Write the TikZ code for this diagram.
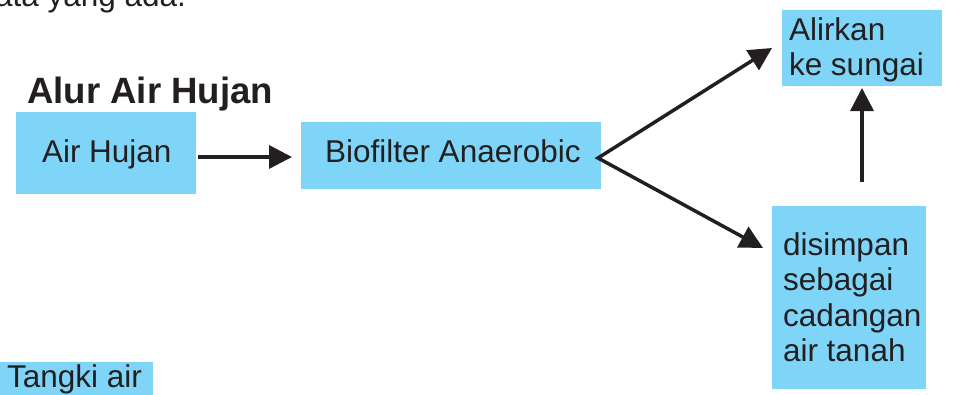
\documentclass[tikz,border=0pt]{standalone}
\usepackage{fontspec}
\setmainfont{Liberation Sans}
\usetikzlibrary{arrows.meta}
\definecolor{boxblue}{RGB}{127,213,247}
\definecolor{ink}{RGB}{35,31,32}
\begin{document}
\begin{tikzpicture}[x=1pt,y=-1pt,
  box/.style={fill=boxblue, draw=none, inner sep=0pt, outer sep=0pt, anchor=north west},
  lbl/.style={text=ink, inner sep=0pt, outer sep=0pt, anchor=base west, font=\fontsize{31.5}{35.5}\selectfont, align=left},
  ttl/.style={text=ink, inner sep=0pt, anchor=base west, font=\fontsize{36.6}{40}\selectfont\bfseries},
  conn/.style={draw=ink, line width=3.5pt, -{Triangle[length=23pt,width=23pt]}},
  connboth/.style={draw=ink, line width=3.5pt, line join=miter, {Triangle[length=23pt,width=23pt]}-{Triangle[length=23pt,width=23pt]}}]
\useasboundingbox (0,0) rectangle (954,394);
\clip (0,0) rectangle (954,394);
% cut text at top
\node[lbl] (toptext) at (-5,6) {ata yang ada.};
% title
\node[ttl] (title) at (27,103) {Alur Air Hujan};
% boxes
\node[box, minimum width=180pt, minimum height=82pt] (air) at (16,112) {};
\node[box, minimum width=300pt, minimum height=67pt] (bio) at (301,122) {};
\node[box, minimum width=160pt, minimum height=76pt] (sungai) at (782,10) {};
\node[box, minimum width=154pt, minimum height=183pt] (simpan) at (772,206) {};
\node[box, minimum width=153pt, minimum height=40pt] (tangki) at (0,362) {};
% texts
\node[lbl] (airT) at (42,162) {Air Hujan};
\node[lbl] (bioT) at (325,162) {Biofilter Anaerobic};
\node[lbl] (sungaiT1) at (789,40) {Alirkan};
\node[lbl] (sungaiT2) at (789,75) {ke sungai};
\node[lbl] (simpanT1) at (783,255) {disimpan};
\node[lbl] (simpanT2) at (783,290.5) {sebagai};
\node[lbl] (simpanT3) at (783,326) {cadangan};
\node[lbl] (simpanT4) at (783,361.5) {air tanah};
\node[lbl] (tangkiT) at (7,387) {Tangki air};
% connector points
\coordinate (a1s) at (198,157);
\coordinate (a1e) at (292,157);
\coordinate (split) at (598,158);
\coordinate (upE) at (772,48);
\coordinate (dnE) at (763,248);
\coordinate (vS) at (862,182);
\coordinate (vE) at (862,88);
% connectors
\draw[conn] (a1s) -- (a1e);
\draw[connboth] (upE) -- (split) -- (dnE);
\draw[conn] (vS) -- (vE);
\end{tikzpicture}
\end{document}
